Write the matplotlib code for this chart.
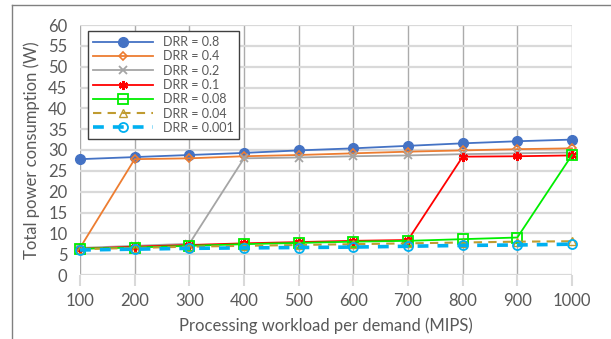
import matplotlib
matplotlib.use('Agg')
import matplotlib.pyplot as plt
from matplotlib.lines import Line2D

workload = [100, 200, 300, 400, 500, 600, 700, 800, 900, 1000]

drr_labels = ["DRR = 0.8", "DRR = 0.4", "DRR = 0.2", "DRR = 0.1",
              "DRR = 0.08", "DRR = 0.04", "DRR = 0.001"]

power_08 = [27.8, 28.3, 28.8, 29.3, 29.9, 30.4, 31.0, 31.6, 32.1, 32.5]
power_04 = [6.5, 27.8, 28.0, 28.5, 28.8, 29.2, 29.6, 29.9, 30.2, 30.4]
power_02 = [6.5, 7.0, 7.5, 28.0, 28.2, 28.5, 28.7, 29.0, 29.2, 29.4]
power_01 = [6.3, 6.8, 7.2, 7.6, 7.9, 8.2, 8.4, 28.4, 28.5, 28.7]
power_008 = [6.3, 6.6, 7.0, 7.4, 7.7, 8.0, 8.2, 8.6, 9.0, 28.8]
power_004 = [6.2, 6.5, 6.8, 7.0, 7.2, 7.4, 7.6, 7.8, 8.0, 8.1]
power_0001 = [6.0, 6.2, 6.4, 6.5, 6.6, 6.7, 6.9, 7.1, 7.2, 7.4]

series = [power_08, power_04, power_02, power_01, power_008, power_004, power_0001]

styles = [
    dict(color='#4472C4', marker='o', ms=7, mfc='#4472C4', ls='-', lw=1.3),
    dict(color='#ED7D31', marker='D', ms=4.5, mfc='none', mew=1.2, ls='-', lw=1.3),
    dict(color='#A5A5A5', marker='x', ms=5.5, mew=1.3, ls='-', lw=1.3),
    dict(color='#FF0000', marker=(6, 2, 0), ms=6.5, mew=1.6, ls='-', lw=1.3),
    dict(color='#00EE00', marker='s', ms=6.5, mfc='none', mew=1.3, ls='-', lw=1.3),
    dict(color='#BF9B30', marker='^', ms=5.5, mfc='none', mew=1.0, ls=(0, (4, 3)), lw=1.5),
    dict(color='#00B0F0', marker='o', ms=6.5, mfc='none', mew=1.3, ls=(0, (3, 2.5)), lw=2.6),
]

plt.rcParams['font.family'] = ['Lato', 'DejaVu Sans']

fig = plt.figure(figsize=(6.11, 3.39), dpi=100)
ax = fig.add_axes([80 / 611, 1 - 275 / 339, 492 / 611, 250 / 339])

for vals, label, st in zip(series, drr_labels, styles):
    ax.plot(workload, vals, label=label, clip_on=False, zorder=3, **st)

ax.set_xlim(100, 1000)
ax.set_ylim(0, 60)
ax.set_xticks(workload)
ax.set_yticks(range(0, 61, 5))

ax.grid(axis='x', color='#ABABAB', lw=1.0)
ax.grid(axis='y', color='#D9D9D9', lw=1.6)
ax.set_axisbelow(True)
for s in ax.spines.values():
    s.set_visible(False)

ax.tick_params(axis='x', length=8, color='#D9D9D9', width=1.5,
               labelsize=12, labelcolor='#595959', pad=5)
ax.tick_params(axis='y', length=0, labelsize=12, labelcolor='#595959', pad=9)

ax.set_xlabel('Processing workload per demand (MIPS)', fontsize=12,
              color='#595959', labelpad=6)
ax.set_ylabel('Total power consumption (W)', fontsize=12,
              color='#595959', labelpad=6)

leg = ax.legend(loc='upper left', bbox_to_anchor=(0.004, 1.0), fontsize=9,
                handlelength=4.8, handletextpad=0.8, labelspacing=0.18,
                borderpad=0.4, fancybox=False, framealpha=1,
                edgecolor='#404040', labelcolor='#595959')
leg.get_frame().set_linewidth(1.0)

# frame of the surrounding chart box
fig.add_artist(Line2D([12 / 611, 12 / 611], [0, 1 - 5 / 339],
                      transform=fig.transFigure, color='#808080', lw=1))
fig.add_artist(Line2D([12 / 611, 1], [1 - 5 / 339, 1 - 5 / 339],
                      transform=fig.transFigure, color='#808080', lw=1))

fig.savefig('out.png', dpi=100)
